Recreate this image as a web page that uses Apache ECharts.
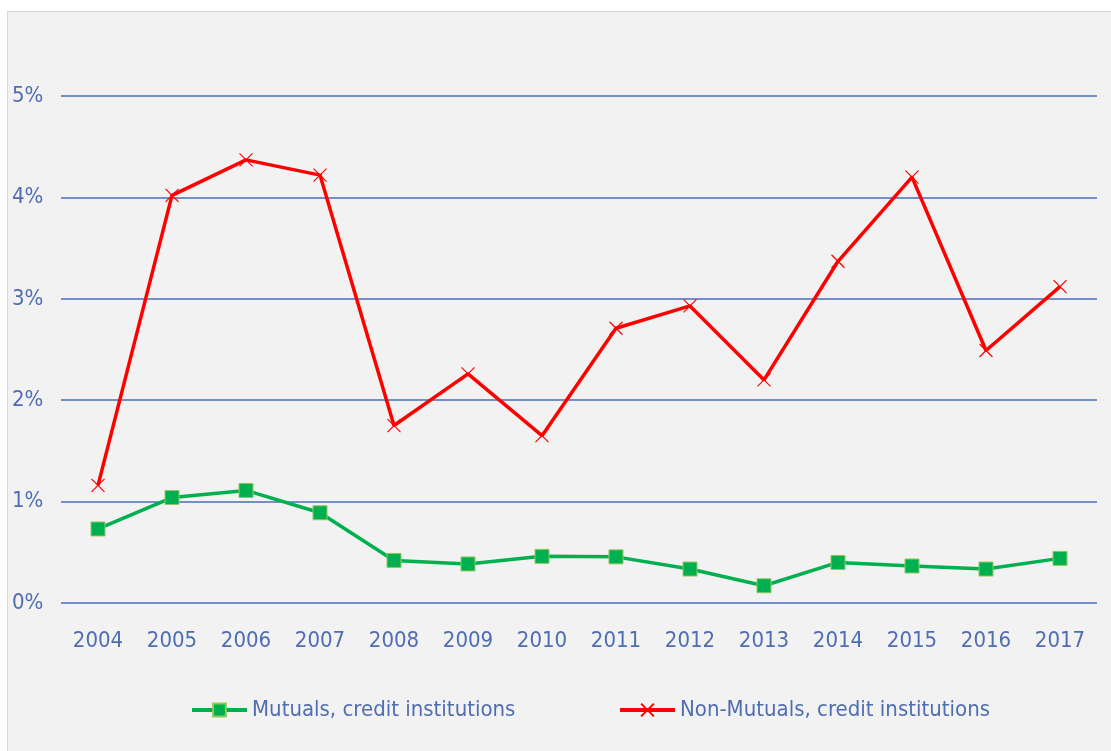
<!DOCTYPE html>
<html>
<head>
<meta charset="utf-8">
<script src="https://cdn.jsdelivr.net/npm/echarts@6/dist/echarts.min.js"></script>
<style>
html,body{margin:0;padding:0;background:#ffffff;}
#bg{position:absolute;left:7px;top:11px;width:1110px;height:745px;background:#f2f2f2;border-left:1px solid #d9d9d9;border-top:1px solid #d9d9d9;}
#chart{position:absolute;left:0;top:0;width:1111px;height:751px;}
</style>
</head>
<body>
<div id="bg"></div>
<div id="chart"></div>
<script>
var categories = ['2004','2005','2006','2007','2008','2009','2010','2011','2012','2013','2014','2015','2016','2017'];
var mutuals = [0.73,1.04,1.11,0.89,0.42,0.385,0.46,0.455,0.335,0.17,0.40,0.365,0.335,0.44];
var nonMutuals = [1.16,4.02,4.37,4.22,1.75,2.26,1.65,2.71,2.93,2.20,3.37,4.20,2.49,3.12];
var yTicks = [0,1,2,3,4,5];
var seriesNames = ['Mutuals, credit institutions','Non-Mutuals, credit institutions'];

var FONT = "'DejaVu Sans Condensed'";
var TXT = '#4f6db2';
var GRID = '#4a6cb8';

var chart = echarts.init(document.getElementById('chart'), null, {renderer:'canvas'});
chart.setOption({
  backgroundColor: 'transparent',
  animation: false,
  grid: {left: 61, right: 14, top: 96, bottom: 148, containLabel: false},
  legend: [
    {data:[seriesNames[0]], left:185, top:694, itemWidth:55, itemHeight:16, itemGap:10,
     lineStyle:{width:4},
     textStyle:{color:TXT, fontFamily:FONT, fontSize:22}},
    {data:[seriesNames[1]], left:613, top:694, itemWidth:55, itemHeight:16, itemGap:10,
     lineStyle:{width:4},
     textStyle:{color:TXT, fontFamily:FONT, fontSize:22}}
  ],
  xAxis: {
    type:'category', data:categories, boundaryGap:true,
    axisLine:{show:false}, axisTick:{show:false},
    axisLabel:{color:TXT, fontFamily:FONT, fontSize:22, margin:27}
  },
  yAxis: {
    type:'value', min:yTicks[0], max:yTicks[yTicks.length-1], interval:1,
    axisLine:{show:false}, axisTick:{show:false},
    splitLine:{lineStyle:{color:GRID, width:1.6}},
    axisLabel:{color:TXT, fontFamily:FONT, fontSize:22, margin:49, align:'left',
      formatter:function(v){return v+'%';}}
  },
  series: [
    {name:seriesNames[0], type:'line', data:mutuals, symbol:'rect', symbolSize:14,
     lineStyle:{color:'#00b050', width:3.5},
     itemStyle:{color:'#00b050', borderColor:'#92c85a', borderWidth:1}, z:3},
    {name:seriesNames[1], type:'line', data:nonMutuals,
     symbol:'path://M0,0L10,10M10,0L0,10', symbolSize:13,
     lineStyle:{color:'#ff0000', width:3.5},
     itemStyle:{color:'#ff0000', borderColor:'#ff0000', borderWidth:1.2}, z:2}
  ]
});
</script>
</body>
</html>
